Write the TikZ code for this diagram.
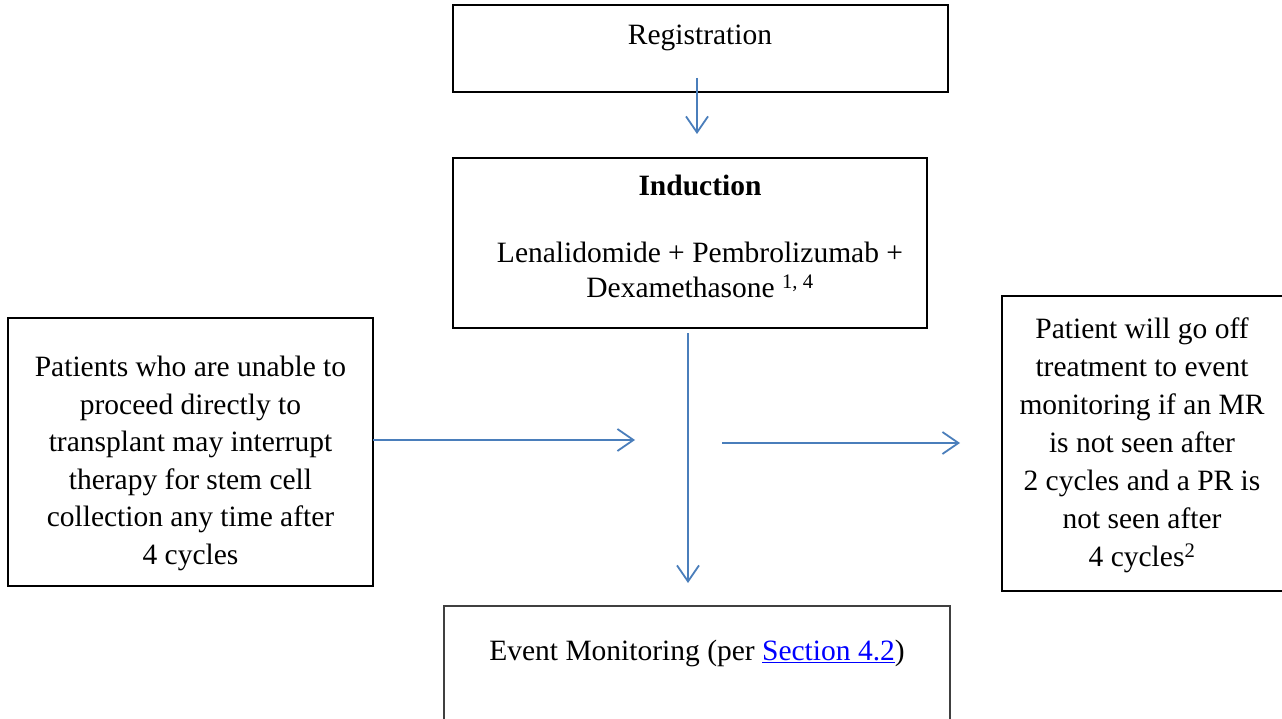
\documentclass[tikz,border=0pt]{standalone}
\usepackage{fontspec}
\setmainfont{Liberation Serif}
\usetikzlibrary{arrows.meta}
\definecolor{arrowblue}{HTML}{4A7EBB}
\definecolor{linkblue}{HTML}{0000FF}
\begin{document}
\begin{tikzpicture}[x=1pt,y=-1pt,
  box/.style={draw=black, line width=2pt, inner sep=0pt, outer sep=0pt, anchor=north west},
  txt/.style={font=\fontsize{29.5}{37.5}\selectfont, align=center, inner sep=0pt},
  flow/.style={draw=arrowblue, line width=1.8pt, -{Straight Barb[length=16pt,width=22pt,line width=1.8pt]}}]
\useasboundingbox (0,0) rectangle (1282,719);
\clip (0,0) rectangle (1282,719);
% boxes
\node[box, minimum width=495pt, minimum height=87pt] (reg) at (453,5) {};
\node[box, minimum width=474pt, minimum height=170pt] (ind) at (453,158) {};
\node[box, minimum width=365pt, minimum height=268pt] (lbox) at (8,318) {};
\node[box, minimum width=290pt, minimum height=295pt] (rbox) at (1002,296) {};
\node[box, draw=black!75, minimum width=506pt, minimum height=140pt] (evt) at (444,606) {};
% texts
\node[txt, anchor=base] (tReg) at (700,45) {Registration};
\node[txt, anchor=base, font=\fontsize{29.5}{37.5}\selectfont\bfseries] (tInd) at (700,196) {Induction};
\node[txt, anchor=north, font=\fontsize{29.5}{35}\selectfont] (tDrug) at (700,242) {Lenalidomide + Pembrolizumab +\\Dexamethasone \textsuperscript{1, 4}};
\node[txt, anchor=north] (tLeft) at (190.5,356) {Patients who are unable to\\proceed directly to\\transplant may interrupt\\therapy for stem cell\\collection any time after\\4 cycles};
\node[txt, anchor=north, font=\fontsize{29.5}{38}\selectfont] (tRight) at (1142,318) {Patient will go off\\treatment to event\\monitoring if an MR\\is not seen after\\2 cycles and a PR is\\not seen after\\4 cycles\textsuperscript{2}};
\node[txt, anchor=base] (tEvt) at (697,660) {Event Monitoring (per {\color{linkblue}\underline{Section 4.2}})};
% connector ends
\coordinate (r1) at (697,78);
\coordinate (r2) at (697,134);
\coordinate (d1) at (688,333);
\coordinate (d2) at (688,583);
\coordinate (l2) at (635,440);
\coordinate (m1) at (722,443);
\coordinate (m2) at (960,443);
% connectors
\draw[flow] (r1) -- (r2);
\draw[flow] (d1) -- (d2);
\draw[flow] (lbox.east |- l2) -- (l2);
\draw[flow] (m1) -- (m2);
\end{tikzpicture}
\end{document}
